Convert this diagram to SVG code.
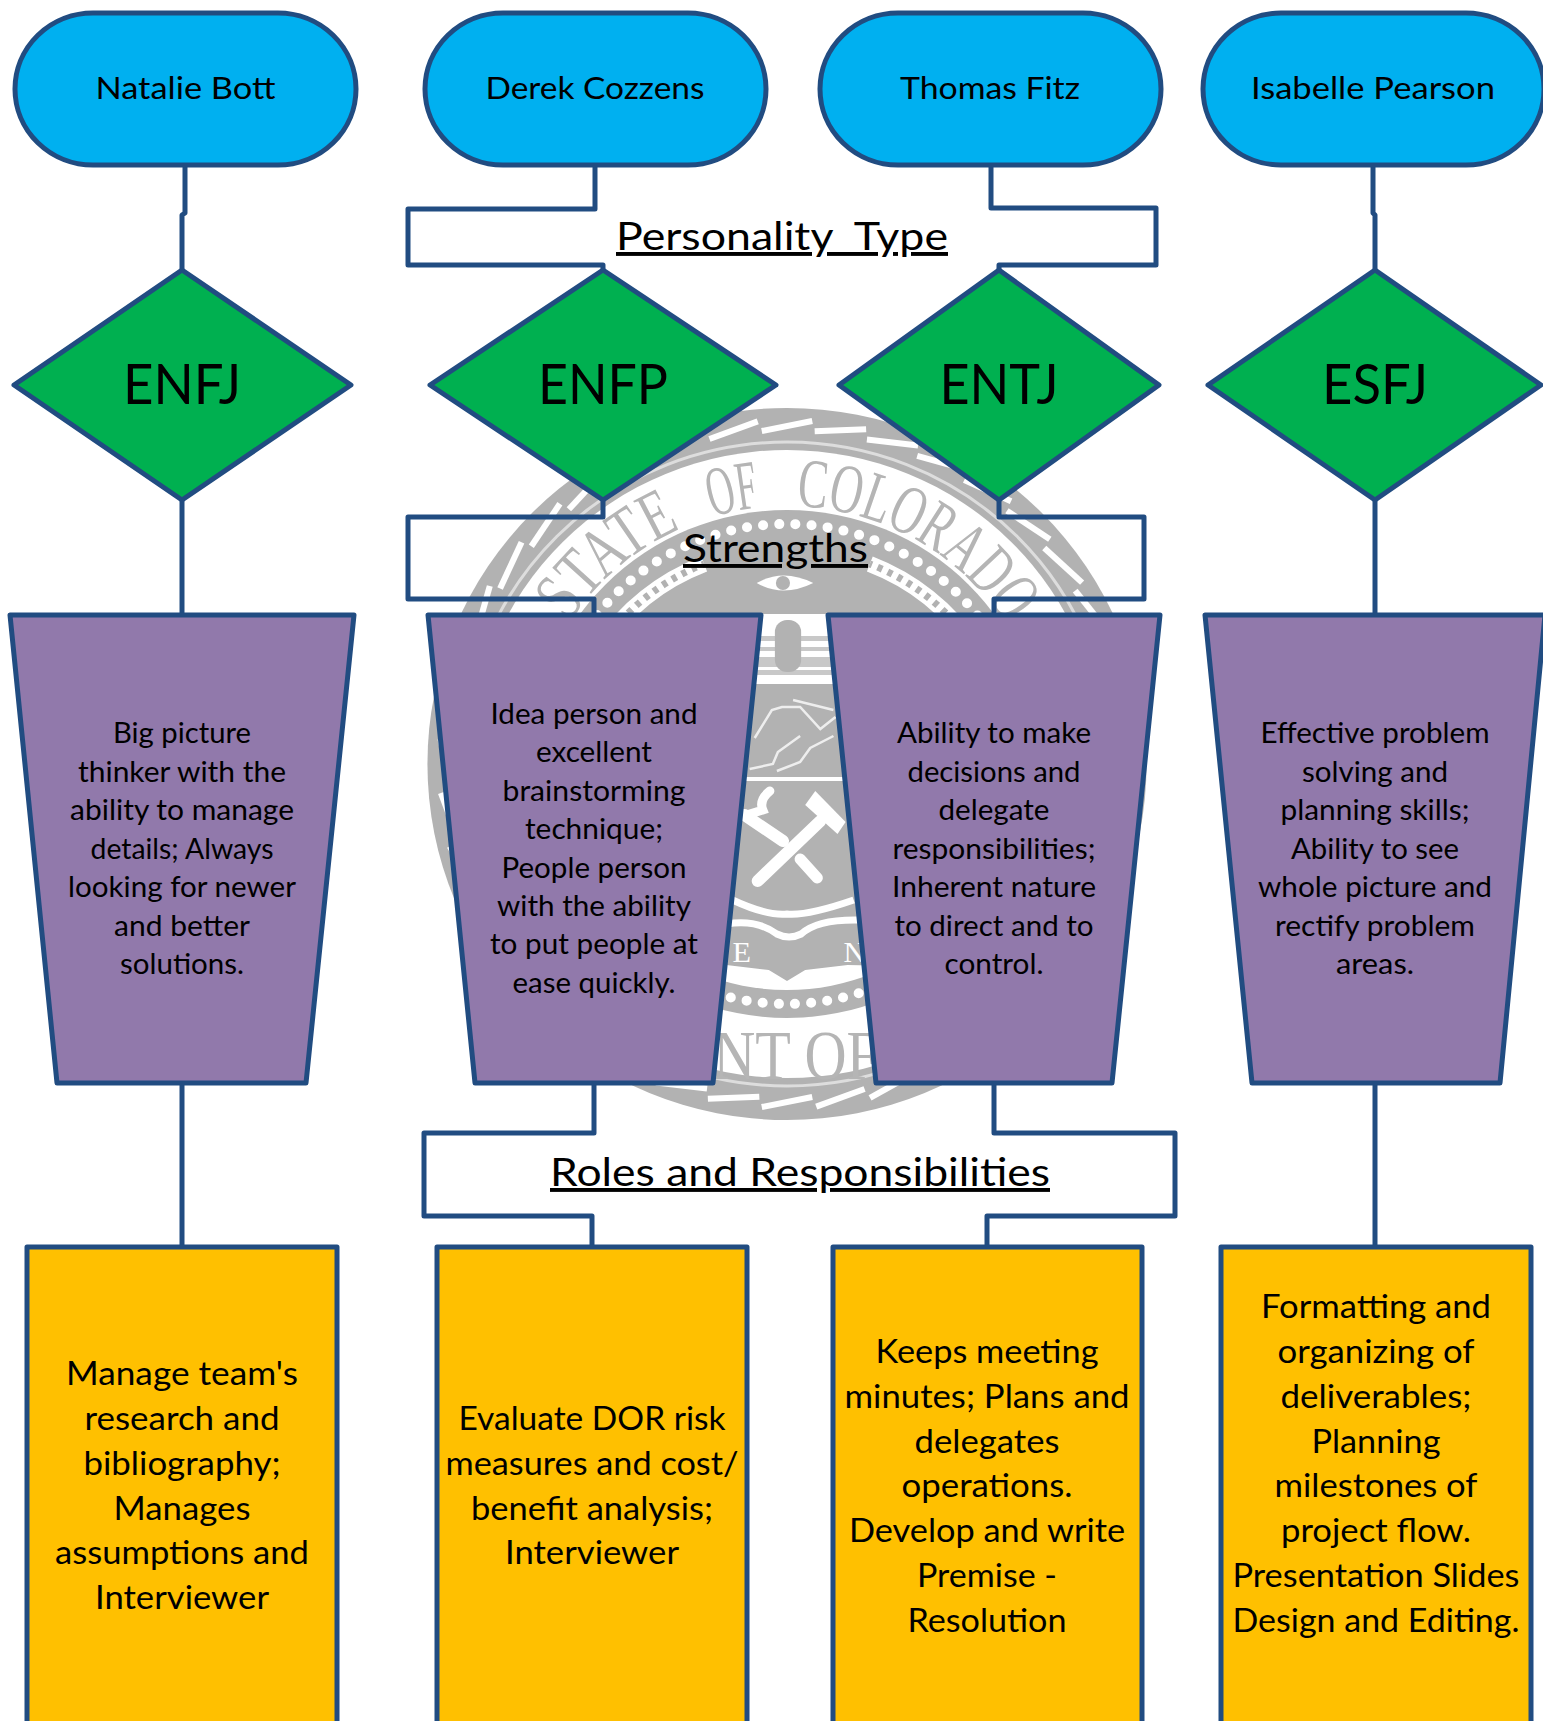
<svg xmlns="http://www.w3.org/2000/svg" xmlns:xlink="http://www.w3.org/1999/xlink" width="1543" height="1721" viewBox="0 0 1543 1721">
<style>
text{font-family:"Lato","Liberation Sans",sans-serif;fill:#000;text-anchor:middle;white-space:pre}
.nm{font-size:31px}.ty{font-size:57px}.st{font-size:28px}.ro{font-size:33px}
.hd{font-size:39px;text-decoration:underline;text-decoration-skip-ink:none;text-decoration-thickness:2.5px;text-underline-offset:5px}
.pill{fill:#00B0F0}.dia{fill:#00B050}.trap{fill:#9179AB}.box{fill:#FFC000}
.pill,.dia,.trap,.box,.con{stroke:#214C81;stroke-width:5;stroke-linejoin:round}
.con{fill:none}
.sl{stroke:#fff;stroke-width:6}
.sg{font-family:"Liberation Serif",serif;fill:#B5B5B5;text-anchor:start}
</style>
<defs>
<path id="arcTop" d="M-223.400 -129A258 258 0 0 1 223.400 -129"/>
<line id="sl" class="sl" x1="-25" y1="-333" x2="25" y2="-343"/>
<clipPath id="inner"><circle r="226"/></clipPath>
</defs>
<g id="seal" transform="translate(787,764) scale(1.01,1)">
<circle r="356" fill="#B2B2B2"/>
<g>
<use xlink:href="#sl"/><use xlink:href="#sl" transform="rotate(9)"/><use xlink:href="#sl" transform="rotate(18)"/><use xlink:href="#sl" transform="rotate(27)"/><use xlink:href="#sl" transform="rotate(36)"/><use xlink:href="#sl" transform="rotate(45)"/><use xlink:href="#sl" transform="rotate(54)"/><use xlink:href="#sl" transform="rotate(63)"/><use xlink:href="#sl" transform="rotate(72)"/><use xlink:href="#sl" transform="rotate(81)"/><use xlink:href="#sl" transform="rotate(90)"/><use xlink:href="#sl" transform="rotate(99)"/><use xlink:href="#sl" transform="rotate(108)"/><use xlink:href="#sl" transform="rotate(117)"/><use xlink:href="#sl" transform="rotate(126)"/><use xlink:href="#sl" transform="rotate(135)"/><use xlink:href="#sl" transform="rotate(144)"/><use xlink:href="#sl" transform="rotate(153)"/><use xlink:href="#sl" transform="rotate(162)"/><use xlink:href="#sl" transform="rotate(171)"/><use xlink:href="#sl" transform="rotate(180)"/><use xlink:href="#sl" transform="rotate(189)"/><use xlink:href="#sl" transform="rotate(198)"/><use xlink:href="#sl" transform="rotate(207)"/><use xlink:href="#sl" transform="rotate(216)"/><use xlink:href="#sl" transform="rotate(225)"/><use xlink:href="#sl" transform="rotate(234)"/><use xlink:href="#sl" transform="rotate(243)"/><use xlink:href="#sl" transform="rotate(252)"/><use xlink:href="#sl" transform="rotate(261)"/><use xlink:href="#sl" transform="rotate(270)"/><use xlink:href="#sl" transform="rotate(279)"/><use xlink:href="#sl" transform="rotate(288)"/><use xlink:href="#sl" transform="rotate(297)"/><use xlink:href="#sl" transform="rotate(306)"/><use xlink:href="#sl" transform="rotate(315)"/><use xlink:href="#sl" transform="rotate(324)"/><use xlink:href="#sl" transform="rotate(333)"/><use xlink:href="#sl" transform="rotate(342)"/><use xlink:href="#sl" transform="rotate(351)"/>
</g>
<circle r="322" fill="none" stroke="#DDD" stroke-width="3"/>
<circle r="314" fill="#fff"/>
<circle r="254" fill="#B2B2B2"/>
<circle r="240" fill="none" stroke="#fff" stroke-width="10" stroke-linecap="round" stroke-dasharray="0 16.04"/>
<circle r="224" fill="#B2B2B2"/>
<path d="M-185 -117A218 218 0 0 1 -82 -200M185 -117A218 218 0 0 0 82 -200" fill="none" stroke="#fff" stroke-width="16"/>
<path d="M-185 -117A218 218 0 0 1 -82 -200M185 -117A218 218 0 0 0 82 -200" fill="none" stroke="#B2B2B2" stroke-width="7" stroke-dasharray="5 6"/>
<path d="M-30 -181Q-4 -196 26 -181Q-4 -166 -30 -181Z" fill="#fff"/>
<circle cx="-4" cy="-181" r="7" fill="#B2B2B2"/>
<text class="sg" font-size="70"><textPath xlink:href="#arcTop" startOffset="15" textLength="147" lengthAdjust="spacingAndGlyphs">STATE</textPath><textPath xlink:href="#arcTop" startOffset="195" textLength="48" lengthAdjust="spacingAndGlyphs">OF</textPath><textPath xlink:href="#arcTop" startOffset="279" textLength="248" lengthAdjust="spacingAndGlyphs">COLORADO</textPath></text>
<g clip-path="url(#inner)">
<rect x="-224" y="-150" width="448" height="70" fill="#fff"/>
<rect x="-224" y="-128" width="448" height="5" fill="#C8C8C8"/>
<rect x="-224" y="-117" width="448" height="4" fill="#C8C8C8"/>
<rect x="-224" y="-107" width="448" height="10" fill="#C8C8C8"/>
<rect x="-224" y="-94" width="448" height="5" fill="#C8C8C8"/>
<rect x="-12" y="-144" width="26" height="52" rx="12" fill="#B2B2B2"/>
<rect x="-224" y="13" width="448" height="4" fill="#fff"/>
<path d="M-250 202L-60 201L-18 206L0 217L18 206L60 201L250 205V240H-250Z" fill="#fff"/>
<path d="M-54 136Q-20 152 0 150Q20 152 66 136" fill="none" stroke="#fff" stroke-width="7"/>
<path d="M-60 160Q-30 155 -10 170Q2 176 14 170Q30 155 72 156" fill="none" stroke="#fff" stroke-width="7"/>
</g>
<g fill="none" stroke="#EEE" stroke-width="2.500">
<path d="M-32 -26L-15 -54L-5 -57L13 -57L33 -35L48 -47"/>
<path d="M-37 5L-14 0L-9 -12L13 -28"/>
<path d="M-10 7L13 -2L23 -16L46 -28"/>
<path d="M6 -64L46 -54"/>
</g>
<g fill="none" stroke="#fff" stroke-linecap="round">
<path d="M-29 117L33 57" stroke-width="12"/>
<path d="M-42 51L-4 77" stroke-width="12"/>
<path d="M13 95L30 114" stroke-width="11"/>
<path d="M-17 27Q-28 36 -24 46L-40 51" stroke-width="9"/>
</g>
<path d="M28 27L58 58L50 70L18 41Z" fill="#fff"/>
<text class="sg" x="-54" y="198" font-size="30" style="fill:#fff">E</text>
<text class="sg" x="56" y="198" font-size="30" style="fill:#fff">N</text>
<text class="sg" x="-73" y="315" font-size="70" textLength="164" lengthAdjust="spacingAndGlyphs">NT OF</text>
</g>
<g id="connectors" class="con">
<path class="con" d="M185 165V213L182 215V270"/>
<path class="con" d="M182 500V615"/>
<path class="con" d="M182 1083V1246"/>
<path class="con" d="M595 165V209H408V265H603V270"/>
<path class="con" d="M603 500V517H408V599H594V615"/>
<path class="con" d="M594 1083V1133H424V1216H592V1246"/>
<path class="con" d="M991 165V208H1156V265H999V270"/>
<path class="con" d="M999 500V517H1144V599H994V615"/>
<path class="con" d="M994 1083V1133H1175V1216H987V1246"/>
<path class="con" d="M1373 165V213L1375 215V270"/>
<path class="con" d="M1375 500V615"/>
<path class="con" d="M1375 1083V1246"/>
</g>
<g id="heading-personality"><text class="hd" x="782" y="250" textLength="332" lengthAdjust="spacingAndGlyphs">Personality  Type</text></g>
<g id="heading-strengths"><text class="hd" x="775.500" y="562" textLength="185" lengthAdjust="spacingAndGlyphs">Strengths</text></g>
<g id="heading-roles"><text class="hd" x="800" y="1186" textLength="500" lengthAdjust="spacingAndGlyphs">Roles and Responsibilities</text></g>
<g id="name-natalie"><rect class="pill" x="15" y="13" width="341" height="152" rx="78" ry="76"/><text class="nm" x="185.500" y="99" textLength="180" lengthAdjust="spacingAndGlyphs">Natalie Bott</text></g>
<g id="name-derek"><rect class="pill" x="425" y="13" width="341" height="152" rx="78" ry="76"/><text class="nm" x="595" y="99" textLength="219" lengthAdjust="spacingAndGlyphs">Derek Cozzens</text></g>
<g id="name-thomas"><rect class="pill" x="820" y="13" width="341" height="152" rx="78" ry="76"/><text class="nm" x="990" y="99" textLength="180" lengthAdjust="spacingAndGlyphs">Thomas Fitz</text></g>
<g id="name-isabelle"><rect class="pill" x="1203" y="13" width="341" height="152" rx="78" ry="76"/><text class="nm" x="1373" y="99" textLength="244" lengthAdjust="spacingAndGlyphs">Isabelle Pearson</text></g>
<g id="type-enfj"><polygon class="dia" points="182,270 351,385 182,500 14,385"/><text class="ty" x="182" y="404" textLength="118" lengthAdjust="spacingAndGlyphs">ENFJ</text></g>
<g id="type-enfp"><polygon class="dia" points="603,270 776,385 603,500 430,385"/><text class="ty" x="603" y="404" textLength="130" lengthAdjust="spacingAndGlyphs">ENFP</text></g>
<g id="type-entj"><polygon class="dia" points="999,270 1159,385 999,500 839,385"/><text class="ty" x="999" y="404" textLength="119" lengthAdjust="spacingAndGlyphs">ENTJ</text></g>
<g id="type-esfj"><polygon class="dia" points="1375,270 1541,385 1375,500 1208,385"/><text class="ty" x="1375" y="404" textLength="106" lengthAdjust="spacingAndGlyphs">ESFJ</text></g>
<g id="strength-natalie"><polygon class="trap" points="10,615 354,615 306,1083 57,1083"/>
<text class="st" x="182" y="743" textLength="138" lengthAdjust="spacingAndGlyphs">Big picture</text>
<text class="st" x="182" y="781.500" textLength="208" lengthAdjust="spacingAndGlyphs">thinker with the</text>
<text class="st" x="182" y="820" textLength="224" lengthAdjust="spacingAndGlyphs">ability to manage</text>
<text class="st" x="182" y="858.500" textLength="183" lengthAdjust="spacingAndGlyphs">details; Always</text>
<text class="st" x="182" y="897" textLength="228" lengthAdjust="spacingAndGlyphs">looking for newer</text>
<text class="st" x="182" y="935.500" textLength="136" lengthAdjust="spacingAndGlyphs">and better</text>
<text class="st" x="182" y="974" textLength="124" lengthAdjust="spacingAndGlyphs">solutions.</text></g>
<g id="strength-derek"><polygon class="trap" points="428,615 761,615 713,1083 475,1083"/>
<text class="st" x="594" y="724" textLength="207" lengthAdjust="spacingAndGlyphs">Idea person and</text>
<text class="st" x="594" y="762.400" textLength="116" lengthAdjust="spacingAndGlyphs">excellent</text>
<text class="st" x="594" y="800.800" textLength="183" lengthAdjust="spacingAndGlyphs">brainstorming</text>
<text class="st" x="594" y="839.200" textLength="138" lengthAdjust="spacingAndGlyphs">technique;</text>
<text class="st" x="594" y="877.600" textLength="185" lengthAdjust="spacingAndGlyphs">People person</text>
<text class="st" x="594" y="916" textLength="194" lengthAdjust="spacingAndGlyphs">with the ability</text>
<text class="st" x="594" y="954.400" textLength="208" lengthAdjust="spacingAndGlyphs">to put people at</text>
<text class="st" x="594" y="992.800" textLength="163" lengthAdjust="spacingAndGlyphs">ease quickly.</text></g>
<g id="strength-thomas"><polygon class="trap" points="828,615 1160,615 1112,1083 876,1083"/>
<text class="st" x="994" y="743" textLength="194" lengthAdjust="spacingAndGlyphs">Ability to make</text>
<text class="st" x="994" y="781.500" textLength="173" lengthAdjust="spacingAndGlyphs">decisions and</text>
<text class="st" x="994" y="820" textLength="111" lengthAdjust="spacingAndGlyphs">delegate</text>
<text class="st" x="994" y="858.500" textLength="203" lengthAdjust="spacingAndGlyphs">responsibilities;</text>
<text class="st" x="994" y="897" textLength="204" lengthAdjust="spacingAndGlyphs">Inherent nature</text>
<text class="st" x="994" y="935.500" textLength="199" lengthAdjust="spacingAndGlyphs">to direct and to</text>
<text class="st" x="994" y="974" textLength="99" lengthAdjust="spacingAndGlyphs">control.</text></g>
<g id="strength-isabelle"><polygon class="trap" points="1205,615 1545,615 1500,1083 1252,1083"/>
<text class="st" x="1375" y="743" textLength="229" lengthAdjust="spacingAndGlyphs">Effective problem</text>
<text class="st" x="1375" y="781.500" textLength="146" lengthAdjust="spacingAndGlyphs">solving and</text>
<text class="st" x="1375" y="820" textLength="189" lengthAdjust="spacingAndGlyphs">planning skills;</text>
<text class="st" x="1375" y="858.500" textLength="168" lengthAdjust="spacingAndGlyphs">Ability to see</text>
<text class="st" x="1375" y="897" textLength="234" lengthAdjust="spacingAndGlyphs">whole picture and</text>
<text class="st" x="1375" y="935.500" textLength="200" lengthAdjust="spacingAndGlyphs">rectify problem</text>
<text class="st" x="1375" y="974" textLength="78" lengthAdjust="spacingAndGlyphs">areas.</text></g>
<g id="role-natalie"><rect class="box" x="27" y="1247" width="310" height="490"/>
<text class="ro" x="182" y="1385" textLength="232" lengthAdjust="spacingAndGlyphs">Manage team's</text>
<text class="ro" x="182" y="1430" textLength="195" lengthAdjust="spacingAndGlyphs">research and</text>
<text class="ro" x="182" y="1475" textLength="197" lengthAdjust="spacingAndGlyphs">bibliography;</text>
<text class="ro" x="182" y="1520" textLength="137" lengthAdjust="spacingAndGlyphs">Manages</text>
<text class="ro" x="182" y="1564" textLength="254" lengthAdjust="spacingAndGlyphs">assumptions and</text>
<text class="ro" x="182" y="1609" textLength="174" lengthAdjust="spacingAndGlyphs">Interviewer</text></g>
<g id="role-derek"><rect class="box" x="437" y="1247" width="310" height="490"/>
<text class="ro" x="592" y="1430" textLength="267" lengthAdjust="spacingAndGlyphs">Evaluate DOR risk</text>
<text class="ro" x="592" y="1475" textLength="293" lengthAdjust="spacingAndGlyphs">measures and cost/</text>
<text class="ro" x="592" y="1520" textLength="242" lengthAdjust="spacingAndGlyphs">benefit analysis;</text>
<text class="ro" x="592" y="1564" textLength="174" lengthAdjust="spacingAndGlyphs">Interviewer</text></g>
<g id="role-thomas"><rect class="box" x="833" y="1247" width="309" height="490"/>
<text class="ro" x="987" y="1363" textLength="223" lengthAdjust="spacingAndGlyphs">Keeps meeting</text>
<text class="ro" x="987" y="1408" textLength="285" lengthAdjust="spacingAndGlyphs">minutes; Plans and</text>
<text class="ro" x="987" y="1453" textLength="145" lengthAdjust="spacingAndGlyphs">delegates</text>
<text class="ro" x="987" y="1497" textLength="171" lengthAdjust="spacingAndGlyphs">operations.</text>
<text class="ro" x="987" y="1542" textLength="276" lengthAdjust="spacingAndGlyphs">Develop and write</text>
<text class="ro" x="987" y="1587" textLength="140" lengthAdjust="spacingAndGlyphs">Premise -</text>
<text class="ro" x="987" y="1632" textLength="159" lengthAdjust="spacingAndGlyphs">Resolution</text></g>
<g id="role-isabelle"><rect class="box" x="1221" y="1247" width="310" height="490"/>
<text class="ro" x="1376" y="1318" textLength="230" lengthAdjust="spacingAndGlyphs">Formatting and</text>
<text class="ro" x="1376" y="1363" textLength="197" lengthAdjust="spacingAndGlyphs">organizing of</text>
<text class="ro" x="1376" y="1408" textLength="191" lengthAdjust="spacingAndGlyphs">deliverables;</text>
<text class="ro" x="1376" y="1453" textLength="129" lengthAdjust="spacingAndGlyphs">Planning</text>
<text class="ro" x="1376" y="1497" textLength="203" lengthAdjust="spacingAndGlyphs">milestones of</text>
<text class="ro" x="1376" y="1542" textLength="190" lengthAdjust="spacingAndGlyphs">project flow.</text>
<text class="ro" x="1376" y="1587" textLength="287" lengthAdjust="spacingAndGlyphs">Presentation Slides</text>
<text class="ro" x="1376" y="1632" textLength="287" lengthAdjust="spacingAndGlyphs">Design and Editing.</text></g>
</svg>
